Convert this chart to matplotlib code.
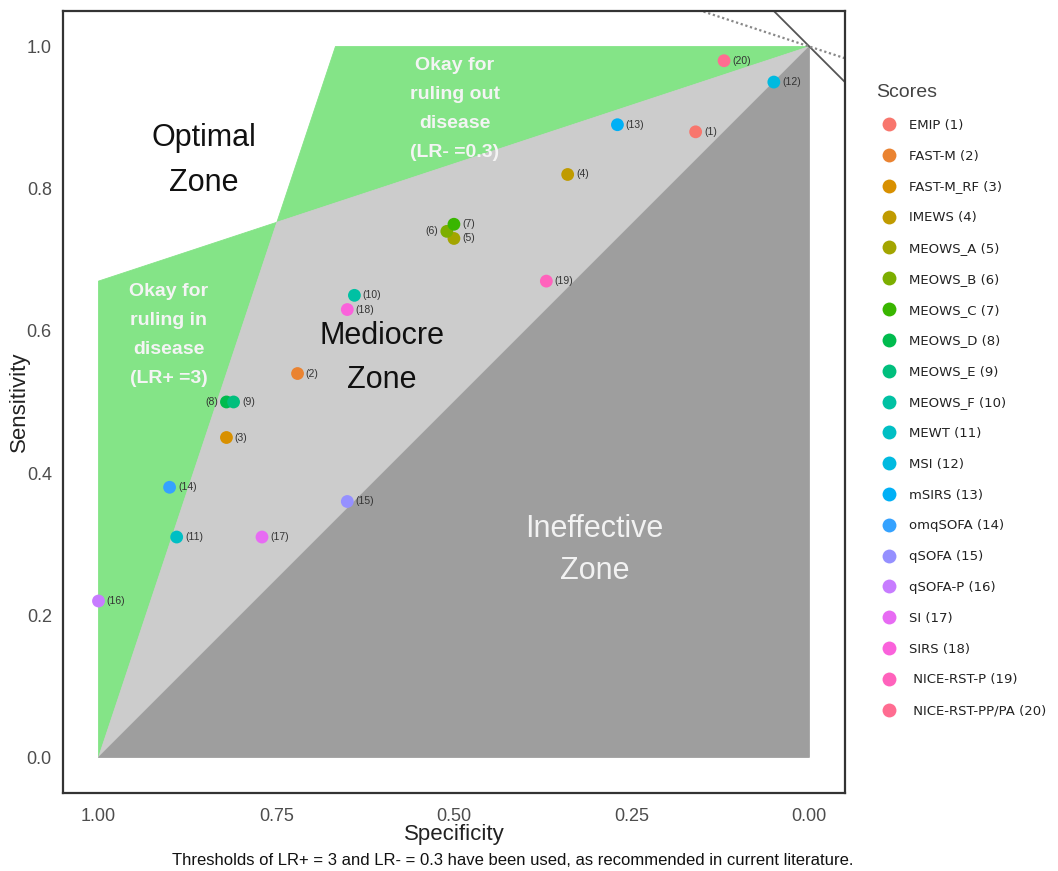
import matplotlib.pyplot as plt
from matplotlib.lines import Line2D

plt.rcParams['font.family'] = ['Liberation Sans', 'DejaVu Sans']

# Scores und Werte
scores = ['EMIP (1)', 'FAST-M (2)', 'FAST-M_RF (3)', 'IMEWS (4)', 'MEOWS_A (5)',
          'MEOWS_B (6)', 'MEOWS_C (7)', 'MEOWS_D (8)', 'MEOWS_E (9)', 'MEOWS_F (10)',
          'MEWT (11)', 'MSI (12)', 'mSIRS (13)', 'omqSOFA (14)', 'qSOFA (15)',
          'qSOFA-P (16)', 'SI (17)', 'SIRS (18)', ' NICE-RST-P (19)', ' NICE-RST-PP/PA (20)']
specificity = [0.16, 0.72, 0.82, 0.34, 0.50, 0.51, 0.50, 0.82, 0.81, 0.64,
               0.89, 0.05, 0.27, 0.90, 0.65, 1.00, 0.77, 0.65, 0.37, 0.12]
sensitivity = [0.88, 0.54, 0.45, 0.82, 0.73, 0.74, 0.75, 0.50, 0.50, 0.65,
               0.31, 0.95, 0.89, 0.38, 0.36, 0.22, 0.31, 0.63, 0.67, 0.98]
left_labels = [6, 8]

# ggplot hue palette
colors = ['#F8766D', '#EA8331', '#D89000', '#C09B00', '#A3A500', '#7CAE00', '#39B600',
          '#00BB4E', '#00BF7D', '#00C1A3', '#00BFC4', '#00BAE0', '#00B0F6', '#35A2FF',
          '#9590FF', '#C77CFF', '#E76BF3', '#FA62DB', '#FF62BC', '#FF6C91']

lr_pos = 3
lr_neg = 0.33   # gezeichnete Linie trifft Spez. 1 bei Sens. 0.67

green = '#84E487'
light = '#CCCCCC'
dark = '#9E9E9E'

fig = plt.figure(figsize=(10.58, 8.71), dpi=100)
ax = fig.add_axes([0.0595, 0.0896, 0.7391, 0.8978])
ax.set_xlim(1.05, -0.05)
ax.set_ylim(-0.05, 1.05)

# Schnittpunkt der beiden Schwellenlinien
spec_x = (lr_pos - 1) / (lr_pos - lr_neg)
sens_x = 1 - lr_neg * spec_x
spec_top = 1 - 1 / lr_pos

kw = dict(lw=0.6, zorder=1)
ax.fill([1, 1, spec_x], [0, 1 - lr_neg, sens_x], color=green, **kw)
ax.fill([spec_x, spec_top, 0], [sens_x, 1, 1], color=green, **kw)
ax.fill([1, spec_x, 0], [0, sens_x, 1], color=light, **kw)
ax.fill([1, 0, 0], [0, 1, 0], color=dark, **kw)

# Linien oben rechts
ax.axline((0, 1), slope=1, color='#555555', lw=1.3, zorder=2)
ax.axline((0, 1), slope=lr_neg, color='#888888', lw=1.6, ls=(0, (1, 1.2)), zorder=2)

# Zonen-Beschriftung
ax.text(0.852, 0.839, 'Optimal\nZone', fontsize=22, ha='center', va='center',
        linespacing=1.65, color='#111111', zorder=3)
ax.text(0.601, 0.562, 'Mediocre\nZone', fontsize=22, ha='center', va='center',
        linespacing=1.6, color='#111111', zorder=3)
ax.text(0.302, 0.292, 'Ineffective\nZone', fontsize=22, ha='center', va='center',
        linespacing=1.5, color='#F2F2F2', zorder=3)
ax.text(0.499, 0.912, 'Okay for\nruling out\ndisease\n(LR- =0.3)', fontsize=14,
        fontweight='bold', ha='center', va='center', linespacing=1.92,
        color='#F4F4F4', zorder=3)
ax.text(0.901, 0.594, 'Okay for\nruling in\ndisease\n(LR+ =3)', fontsize=14,
        fontweight='bold', ha='center', va='center', linespacing=1.92,
        color='#F4F4F4', zorder=3)

# Punkte mit Nummern
for i, (sp, se) in enumerate(zip(specificity, sensitivity)):
    n = i + 1
    ax.scatter(sp, se, s=85, color=colors[i], edgecolor='none', zorder=4)
    if n in left_labels:
        ax.annotate(f'({n})', (sp, se), xytext=(-6, 0), textcoords='offset points',
                    ha='right', va='center', fontsize=7.5, color='#333333', zorder=5)
    else:
        ax.annotate(f'({n})', (sp, se), xytext=(6, 0), textcoords='offset points',
                    ha='left', va='center', fontsize=7.5, color='#333333', zorder=5)

# Achsen
ax.set_xticks([1, 0.75, 0.5, 0.25, 0])
ax.set_xticklabels(['1.00', '0.75', '0.50', '0.25', '0.00'])
ax.set_yticks([0, 0.2, 0.4, 0.6, 0.8, 1.0])
ax.set_yticklabels(['0.0', '0.2', '0.4', '0.6', '0.8', '1.0'])
ax.tick_params(axis='x', length=0, pad=11, labelsize=13, labelcolor='#4D4D4D')
ax.tick_params(axis='y', length=0, pad=8, labelsize=13, labelcolor='#4D4D4D')
ax.set_xlabel('Specificity', fontsize=16, color='#222222', labelpad=-1)
ax.set_ylabel('Sensitivity', fontsize=16, color='#222222', labelpad=-2)
for sp in ax.spines.values():
    sp.set_linewidth(1.6)
    sp.set_color('#333333')

fig.text(0.485, 1 - 860 / 871,
         'Thresholds of LR+ = 3 and LR- = 0.3 have been used, as recommended in current literature.',
         ha='center', va='center', fontsize=12, color='#111111')

# Legende
handles = [Line2D([], [], ls='none', marker='o', markersize=10, color=c, markeredgewidth=0)
           for c in colors]
leg = fig.legend(handles, scores, loc='upper left', bbox_to_anchor=(0.828, 1 - 84 / 871),
                 frameon=False, title='Scores', alignment='left', handlelength=2,
                 handletextpad=0.5, labelspacing=1.35, borderpad=0, borderaxespad=0,
                 prop={'family': 'DejaVu Sans', 'size': 9.5})
leg.get_title().set_fontsize(14)
leg.get_title().set_color('#444444')
for t in leg.get_texts():
    t.set_color('#222222')

fig.savefig('out.png', dpi=100)
